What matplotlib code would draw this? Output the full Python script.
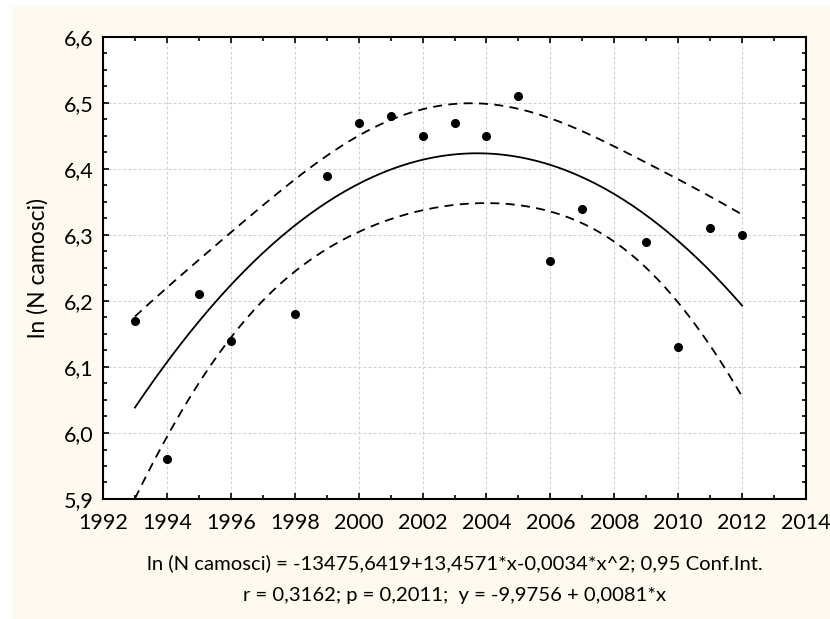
import numpy as np
import matplotlib.pyplot as plt
from matplotlib.patches import Rectangle
from matplotlib.ticker import MultipleLocator, FuncFormatter

# data
years = [1993, 1994, 1995, 1996, 1998, 1999, 2000, 2001, 2002, 2003,
         2004, 2005, 2006, 2007, 2009, 2010, 2011, 2012]
ln_n = [6.17, 5.96, 6.21, 6.14, 6.18, 6.39, 6.47, 6.48, 6.45, 6.47,
        6.45, 6.51, 6.26, 6.34, 6.29, 6.13, 6.31, 6.30]

line1 = 'ln (N camosci) = -13475,6419+13,4571*x-0,0034*x^2; 0,95 Conf.Int.'
line2 = 'r = 0,3162; p = 0,2011;  y = -9,9756 + 0,0081*x'

x = np.array(years, dtype=float)
y = np.array(ln_n)

# quadratic fit with 95% band for the mean
xc = x - x.mean()
X = np.column_stack([np.ones_like(xc), xc, xc**2])
beta, res, _, _ = np.linalg.lstsq(X, y, rcond=None)
dof = len(x) - 3
s2 = np.sum((y - X @ beta)**2) / dof
cov = np.linalg.inv(X.T @ X)
t975 = 2.131

xs = np.linspace(x.min(), x.max(), 200)
Xs = np.column_stack([np.ones_like(xs), xs - x.mean(), (xs - x.mean())**2])
fit = Xs @ beta
se = np.sqrt(s2 * np.einsum('ij,jk,ik->i', Xs, cov, Xs))

plt.rcParams['font.family'] = ['Lato', 'DejaVu Sans']

fig = plt.figure(figsize=(8.3, 6.19), dpi=100)
fig.patch.set_facecolor('white')
fig.add_artist(Rectangle((12/830, 0), 1, 1 - 6/619, transform=fig.transFigure,
                         facecolor='#FFFAEF', edgecolor='none', zorder=0))

ax = fig.add_axes([103/830, 1 - 499/619, 703/830, 462/619])
ax.set_facecolor('white')

ax.plot(xs, fit, color='black', lw=1.3)
ax.plot(xs, fit + t975*se, color='black', lw=1.3, dashes=(5, 3.5))
ax.plot(xs, fit - t975*se, color='black', lw=1.3, dashes=(5, 3.5))
ax.plot(x, y, 'o', color='black', markersize=5.5)

ax.set_xlim(1992, 2014)
ax.set_ylim(5.9, 6.6)
ax.xaxis.set_major_locator(MultipleLocator(2))
ax.xaxis.set_minor_locator(MultipleLocator(1))
ax.yaxis.set_major_locator(MultipleLocator(0.1))
ax.yaxis.set_minor_locator(MultipleLocator(0.025))
ax.yaxis.set_major_formatter(FuncFormatter(lambda v, p: f'{v:.1f}'.replace('.', ',')))
ax.tick_params(which='both', direction='in', top=True, right=True, width=1.2,
               labelsize=15.5)
ax.tick_params(axis='x', pad=10)
ax.tick_params(axis='y', pad=7)
ax.tick_params(which='major', length=4)
ax.tick_params(which='minor', length=3)
ax.grid(True, which='major', color='#cfcfcf', linestyle=(0, (2.5, 2)), lw=0.8)
for sp in ax.spines.values():
    sp.set_linewidth(1.5)

ax.set_ylabel('ln (N camosci)', fontsize=16.5, labelpad=11)
fig.text(454.5/830, 1 - 563/619, line1, ha='center', va='center', fontsize=14.6)
fig.text(454.5/830, 1 - 596/619, line2, ha='center', va='center', fontsize=14.6)

fig.savefig('out.png', dpi=100)
